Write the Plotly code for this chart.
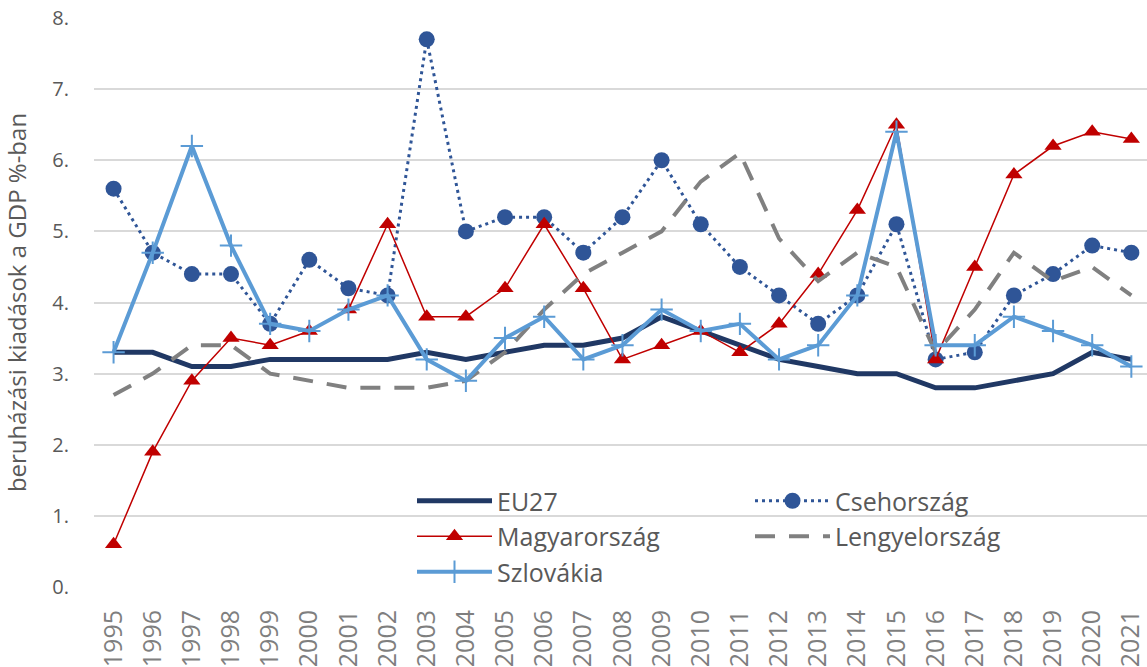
import plotly.graph_objects as go

years = [str(y) for y in range(1995, 2022)]
eu27 = [3.3, 3.3, 3.1, 3.1, 3.2, 3.2, 3.2, 3.2, 3.3, 3.2, 3.3, 3.4, 3.4, 3.5, 3.8, 3.6, 3.4, 3.2, 3.1, 3.0, 3.0, 2.8, 2.8, 2.9, 3.0, 3.3, 3.2]
cseh = [5.6, 4.7, 4.4, 4.4, 3.7, 4.6, 4.2, 4.1, 7.7, 5.0, 5.2, 5.2, 4.7, 5.2, 6.0, 5.1, 4.5, 4.1, 3.7, 4.1, 5.1, 3.2, 3.3, 4.1, 4.4, 4.8, 4.7]
magyar = [0.6, 1.9, 2.9, 3.5, 3.4, 3.6, 3.9, 5.1, 3.8, 3.8, 4.2, 5.1, 4.2, 3.2, 3.4, 3.6, 3.3, 3.7, 4.4, 5.3, 6.5, 3.2, 4.5, 5.8, 6.2, 6.4, 6.3]
lengyel = [2.7, 3.0, 3.4, 3.4, 3.0, 2.9, 2.8, 2.8, 2.8, 2.9, 3.3, 3.9, 4.4, 4.7, 5.0, 5.7, 6.1, 4.9, 4.3, 4.7, 4.5, 3.3, 3.9, 4.7, 4.3, 4.5, 4.1]
szlovak = [3.3, 4.7, 6.2, 4.8, 3.7, 3.6, 3.9, 4.1, 3.2, 2.9, 3.5, 3.8, 3.2, 3.4, 3.9, 3.6, 3.7, 3.2, 3.4, 4.1, 6.4, 3.4, 3.4, 3.8, 3.6, 3.4, 3.1]
ytick_vals = [0, 1, 2, 3, 4, 5, 6, 7, 8]
ytick_text = ["0.", "1.", "2.", "3.", "4.", "5.", "6.", "7.", "8."]

FONT = "Open Sans"

fig = go.Figure()
fig.add_trace(go.Scatter(x=years, y=eu27, name="EU27", mode="lines",
                         line=dict(color="#203864", width=5), legend="legend"))
fig.add_trace(go.Scatter(x=years, y=cseh, name="Csehország", mode="lines+markers",
                         line=dict(color="#2F5597", width=3, dash="3px,4px"),
                         marker=dict(symbol="circle", size=16, color="#2F5597"), legend="legend2"))
fig.add_trace(go.Scatter(x=years, y=magyar, name="Magyarország", mode="lines+markers",
                         line=dict(color="#C00000", width=1.5),
                         marker=dict(symbol="triangle-up", size=15, color="#C00000"), legend="legend"))
fig.add_trace(go.Scatter(x=years, y=lengyel, name="Lengyelország", mode="lines",
                         line=dict(color="#808080", width=4, dash="20px,14px"), legend="legend2"))
fig.add_trace(go.Scatter(x=years, y=szlovak, name="Szlovákia", mode="lines+markers",
                         line=dict(color="#5B9BD5", width=4),
                         marker=dict(symbol="cross-thin", size=16, color="#5B9BD5",
                                     line=dict(color="#5B9BD5", width=2)), legend="legend"))

PLOT_W = 1053
PLOT_H = 569
legend_common = dict(bgcolor="rgba(0,0,0,0)", font=dict(family=FONT, size=25, color="#595959"),
                     itemwidth=75, tracegroupgap=0, orientation="v",
                     xanchor="left", yanchor="top", xref="paper", yref="paper")

fig.update_layout(
    width=1147, height=667,
    margin=dict(l=94, r=0, t=18, b=80),
    paper_bgcolor="white", plot_bgcolor="white",
    showlegend=True,
    legend=dict(x=(412 - 94) / PLOT_W, y=(587 - 478) / PLOT_H, **legend_common),
    legend2=dict(x=(750 - 94) / PLOT_W, y=(587 - 478) / PLOT_H, **legend_common),
    xaxis=dict(type="category", range=[-0.5, 26.4], showgrid=False, showline=False, zeroline=False,
               tickangle=-90, tickfont=dict(family=FONT, size=25, color="#7F7F7F"),
               ticks="outside", ticklen=12, tickcolor="rgba(0,0,0,0)"),
    yaxis=dict(range=[0, 8], tickvals=ytick_vals, ticktext=ytick_text,
               showgrid=True, gridcolor="#D9D9D9", gridwidth=1.5, zeroline=False, showline=False,
               tickfont=dict(family=FONT, size=20, color="#595959"),
               ticks="outside", ticklen=20, tickcolor="rgba(0,0,0,0)",
               title=dict(text="beruházási kiadások a GDP %-ban", standoff=20,
                          font=dict(family=FONT, size=24, color="#595959"))),
)

fig.write_html("out.html", config={"displayModeBar": False},
               post_script="document.body.style.margin='0';")
